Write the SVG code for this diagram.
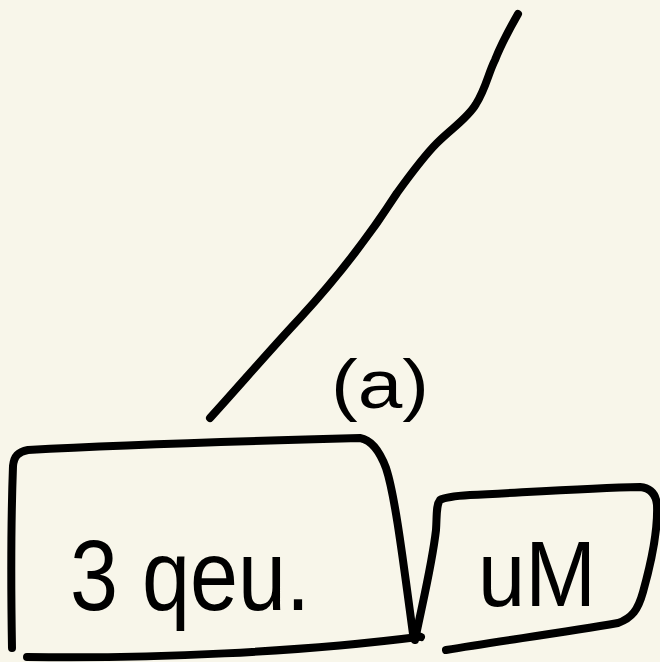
<svg xmlns="http://www.w3.org/2000/svg" width="660" height="662" viewBox="0 0 660 662">
  <style>
    .ink { fill: none; stroke: #000; stroke-width: 8; stroke-linecap: round; stroke-linejoin: round; }
    .hand { font-family: "Liberation Sans", "DejaVu Sans", sans-serif; fill: #000; }
  </style>
  <rect width="660" height="662" fill="#f8f6ea"/>

  <!-- slanted stroke rising to the upper right -->
  <g id="connectors">
    <path class="ink" d="M210,418 C240,385 270,350 300,318 C335,280 370,235 397,193 C410,175 425,155 437,143 C452,128 468,118 476,104 C486,88 488,74 495,60 C502,42 510,28 518,14"/>
  </g>

  <!-- label beside the stroke -->
  <g id="label-a">
    <text class="hand" x="331" y="408" font-size="68" textLength="98" lengthAdjust="spacingAndGlyphs">(a)</text>
  </g>

  <!-- large box -->
  <g id="node-left">
    <path class="ink" d="M12,648 C11,590 11,520 13,466 C14,456 18,452 28,450 C140,444 250,441 360,438 C372,440 380,452 386,468 C395,495 403,560 413,634 L421,637"/>
    <path class="ink" d="M27,657 C150,659 300,652 418,637"/>
    <text class="hand" x="70" y="610" font-size="100" textLength="240" lengthAdjust="spacingAndGlyphs">3 qeu.</text>
  </g>

  <!-- small box -->
  <g id="node-right">
    <path class="ink" d="M415,640 C422,605 432,565 436,530 C437,515 436,505 440,500 C445,497 455,496 470,495 C530,492 590,488 640,487 C650,488 656,494 657,505 C658,530 652,560 643,592 C638,610 632,618 618,623 C560,633 500,641 446,650"/>
    <text class="hand" x="478" y="606" font-size="92" textLength="118" lengthAdjust="spacingAndGlyphs">uM</text>
  </g>
</svg>
